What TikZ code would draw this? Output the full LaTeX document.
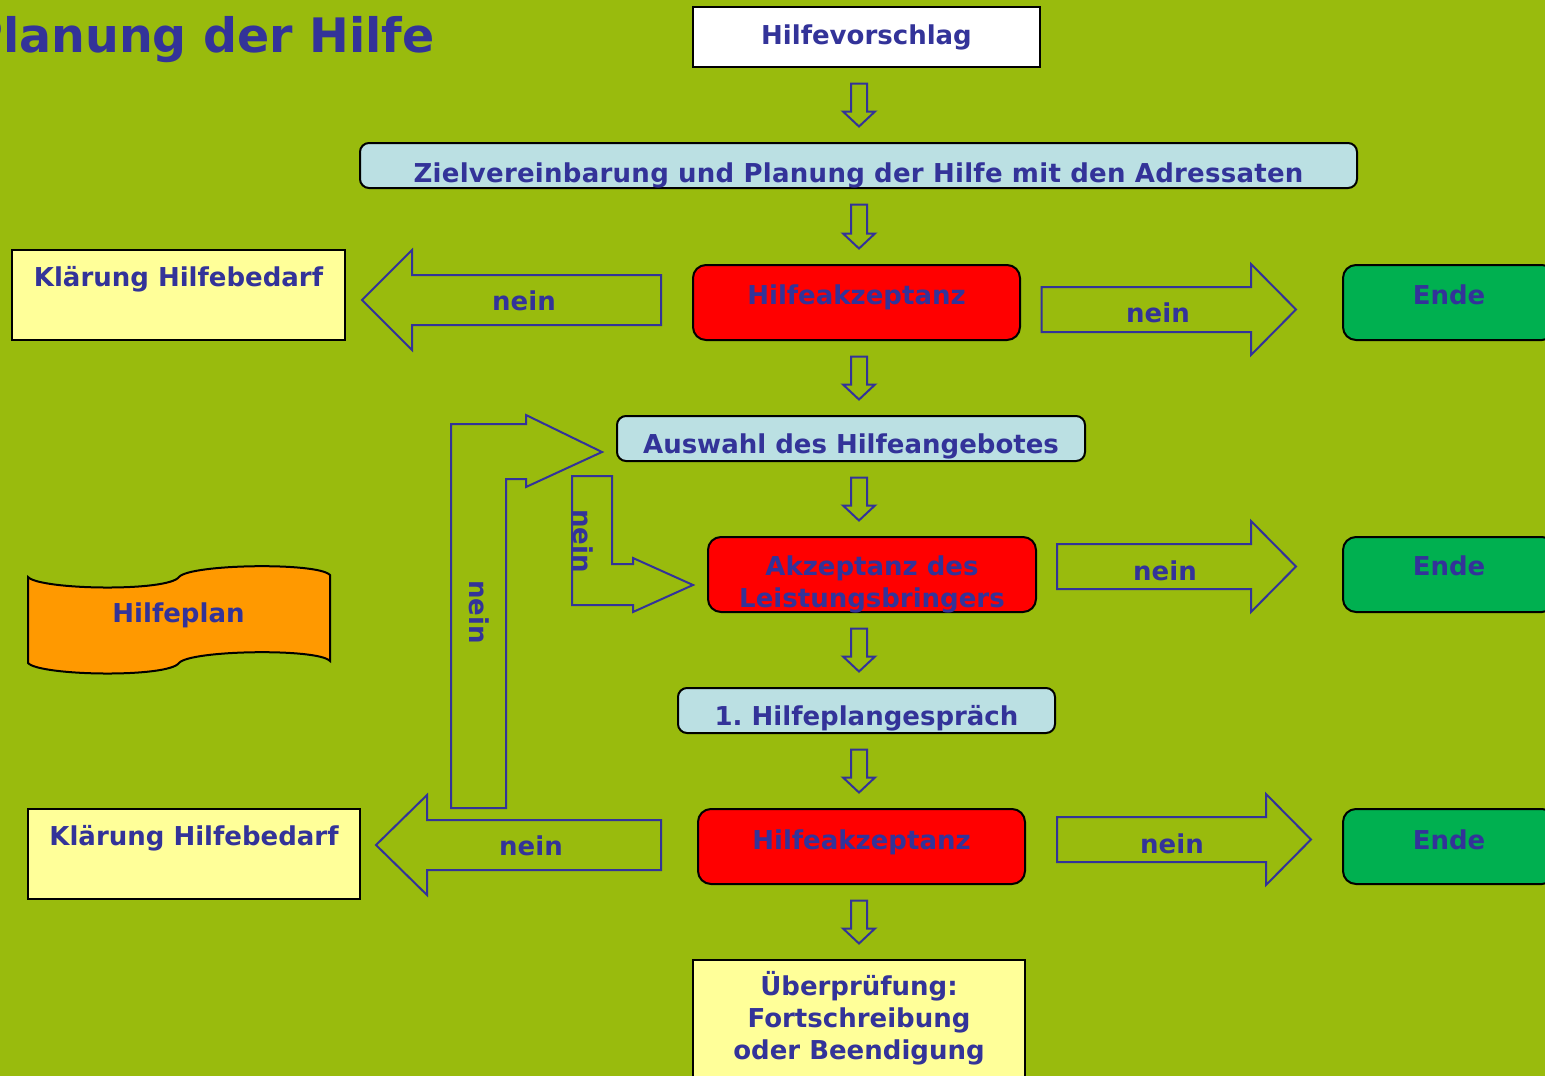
\documentclass[tikz,border=0pt]{standalone}
\usepackage{fontspec}
\setmainfont{DejaVu Sans}
\usetikzlibrary{calc}
\definecolor{cxgreen}{HTML}{99BB0D}
\definecolor{cxnavy}{HTML}{333399}
\definecolor{cxlightblue}{HTML}{BBE0E3}
\definecolor{cxyellow}{HTML}{FFFF99}
\definecolor{cxred}{HTML}{FF0000}
\definecolor{cxendgreen}{HTML}{00B050}
\definecolor{cxorange}{HTML}{FF9900}
\frenchspacing
\newcommand{\bodyfont}{\bfseries\fontsize{26}{32}\selectfont}
% block arrow from one node down to the next, on the spine
\newcommand{\downblock}[2]{%
  \draw[blockarrow] let \p1=(#1.south), \p2=(#2.north), \p3=(spine) in
    (\x3-8pt,\y1-15.5pt) -- (\x3+8pt,\y1-15.5pt) -- (\x3+8pt,\y2+30.5pt)
    -- (\x3+16pt,\y2+30.5pt) -- (\x3,\y2+15.5pt) -- (\x3-16pt,\y2+30.5pt)
    -- (\x3-8pt,\y2+30.5pt) -- cycle;}
% horizontal block arrow: tail, tip, shaft half width, head half width, head length
\newcommand{\sideblock}[5]{%
  \draw[blockarrow] let \p1=(#1), \p2=(#2), \n1={#5} in
    ({\x1},{\y1+#3}) -- ({\x2-\n1},{\y1+#3}) -- ({\x2-\n1},{\y1+#4}) -- ({\x2},{\y1})
    -- ({\x2-\n1},{\y1-#4}) -- ({\x2-\n1},{\y1-#3}) -- ({\x1},{\y1-#3}) -- cycle;}

\begin{document}
\begin{tikzpicture}[
  x=1pt, y=-1pt,
  every node/.style={font=\bodyfont, text=cxnavy},
  box/.style={rectangle, draw=black, line width=2pt, inner sep=0pt},
  plainbox/.style={box, fill=white},
  bluebox/.style={box, rounded corners=9pt, fill=cxlightblue},
  redbox/.style={box, rounded corners=13pt, fill=cxred},
  endbox/.style={box, rounded corners=13pt, fill=cxendgreen},
  notebox/.style={box, fill=cxyellow},
  blockarrow/.style={draw=cxnavy, line width=2pt, line join=miter},
  titletext/.style={font=\bfseries\fontsize{47.5}{56}\selectfont, inner sep=0pt},
]
\useasboundingbox (0,0) rectangle (1545,1076);
\clip (0,0) rectangle (1545,1076);
\fill[cxgreen] (0,0) rectangle (1545,1076);
\coordinate (spine) at (859,0);

% Title
\node[titletext, anchor=base west] (title) at (-32,52) {Planung der Hilfe};

% Main column
\node[plainbox, minimum width=347, minimum height=60, text height=20pt, text depth=6pt] (vorschlag) at (866.5,37) {Hilfevorschlag};
\node[bluebox, minimum width=997, minimum height=45, text height=33pt, text depth=0pt] (ziel) at (858.5,165.5) {\addfontfeature{LetterSpace=1}Zielvereinbarung und Planung der Hilfe mit den Adressaten};
\node[redbox, minimum width=327, minimum height=75, text height=20pt, text depth=17pt] (akz1) at (856.5,302.5) {Hilfeakzeptanz};
\node[bluebox, minimum width=468, minimum height=45, text height=29pt, text depth=0pt] (auswahl) at (851,438.5) {Auswahl des Hilfeangebotes};
\node[redbox, minimum width=328, minimum height=75] (akz2) at (872,574.5) {};
\node[align=center] (akz2-text) at (872,584) {Akzeptanz des\\Leistungsbringers};
\node[bluebox, minimum width=377, minimum height=45, text height=29pt, text depth=0pt] (gespraech) at (866.5,710.5) {1. Hilfeplangespräch};
\node[redbox, minimum width=327, minimum height=75, text height=20pt, text depth=14pt] (akz3) at (861.5,846.5) {Hilfeakzeptanz};
\node[notebox, minimum width=332, minimum height=140] (pruef) at (859,1030) {};
\node[align=center] (pruef-text) at (859,1018) {Überprüfung:\\Fortschreibung\\oder Beendigung};

% Side boxes
\node[notebox, minimum width=333, minimum height=90, text height=2pt, text depth=20pt] (klaer1) at (178.5,295) {Klärung Hilfebedarf};
\node[notebox, minimum width=332, minimum height=90, text height=2pt, text depth=20pt] (klaer2) at (194,854) {Klärung Hilfebedarf};
\node[endbox, minimum width=212, minimum height=75, text height=20pt, text depth=17pt] (ende1) at (1449,302.5) {Ende};
\node[endbox, minimum width=212, minimum height=75, text height=20pt, text depth=18pt] (ende2) at (1449,574.5) {Ende};
\node[endbox, minimum width=212, minimum height=75, text height=20pt, text depth=14pt] (ende3) at (1449,846.5) {Ende};

% Hilfeplan banner
\draw[fill=cxorange, line width=2pt] (28,577) .. controls (40,590) and (168,592) .. (179,577)
  .. controls (190,564) and (318,562) .. (330,575) -- (330,661)
  .. controls (318,648) and (190,650) .. (179,663)
  .. controls (168,678) and (40,676) .. (28,663) -- cycle;
\node (hilfeplan) at (178.5,615) {Hilfeplan};

% Down arrows
\downblock{vorschlag}{ziel}
\downblock{ziel}{akz1}
\downblock{akz1}{auswahl}
\downblock{auswahl}{akz2}
\downblock{akz2}{gespraech}
\downblock{gespraech}{akz3}
\downblock{akz3}{pruef}

% nein arrows
\sideblock{$(akz1.west)+(-31,-2.5)$}{$(klaer1.east)+(16,0)$}{25pt}{50pt}{-50pt}
\sideblock{$(akz1.east)+(20.5,7)$}{$(ende1.west)+(-46,0)$}{22.5pt}{45.5pt}{45pt}
\sideblock{$(akz2.east)+(20,-8)$}{$(ende2.west)+(-46,0)$}{22.5pt}{45.5pt}{45pt}
\sideblock{$(akz3.west)+(-36,-1.5)$}{$(klaer2.east)+(15,0)$}{25pt}{50pt}{-51pt}
\sideblock{$(akz3.east)+(31,-7)$}{$(ende3.west)+(-31,0)$}{22.5pt}{45.5pt}{45pt}
\node (nein1) at (524,301) {nein};
\node (nein2) at (1158,313) {nein};
\node (nein3) at (1165,571) {nein};
\node (nein4) at (531,846) {nein};
\node (nein5) at (1172,844) {nein};

% L-shaped arrows back to the offer
\draw[blockarrow] (451,808) -- (451,424) -- (526,424) -- (526,415) -- (602,452)
  -- (526,487) -- (526,479) -- (506,479) -- (506,808) -- cycle;
\node[rotate=-90] (nein6) at (479,612) {nein};
\draw[blockarrow] (572,476) -- (612,476) -- (612,564) -- (633,564) -- (633,558)
  -- (693,585) -- (633,612) -- (633,605) -- (572,605) -- cycle;
\node[rotate=-90] (nein7) at (583,541) {nein};

\end{tikzpicture}
\end{document}
